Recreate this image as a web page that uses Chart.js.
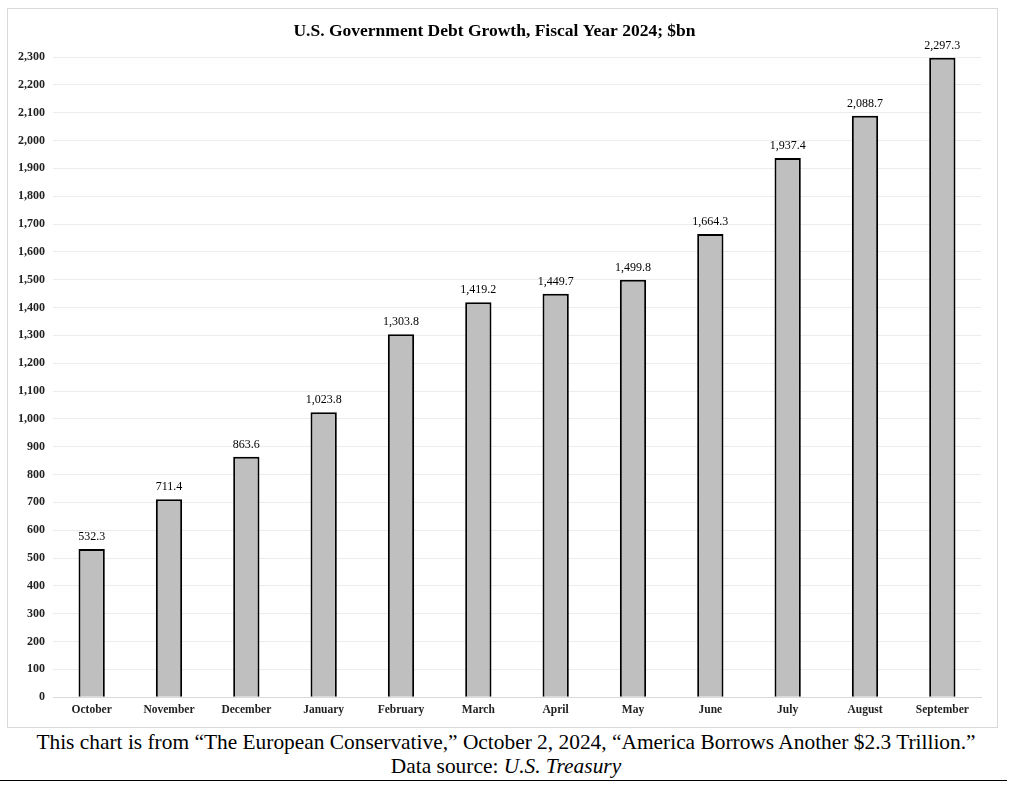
<!DOCTYPE html>
<html>
<head>
<meta charset="utf-8">
<script src="https://cdn.jsdelivr.net/npm/chart.js@4"></script>
<style>
  body { margin: 0; background: #fff; width: 1012px; height: 789px; position: relative; overflow: hidden; }
  #box { position: absolute; left: 7px; top: 8px; width: 989px; height: 718px; border: 1px solid #d9d9d9; }
  .caption { position: absolute; left: 0; width: 1012px; text-align: center; font-family: "Liberation Serif", "Times New Roman", serif; font-size: 21.4px; color: #000; }
  #rule { position: absolute; left: 0; top: 780px; width: 1007px; height: 0; border-top: 1px solid #000; }
</style>
</head>
<body>
<div id="box"><canvas id="chart"></canvas></div>
<div class="caption" style="top:730px">This chart is from “The European Conservative,” October 2, 2024, “America Borrows Another $2.3 Trillion.”</div>
<div class="caption" style="top:754px">Data source: <i>U.S. Treasury</i></div>
<div id="rule"></div>
<script>
// Datos del gráfico
const months = ['October', 'November', 'December', 'January', 'February', 'March',
                'April', 'May', 'June', 'July', 'August', 'September'];
const debtGrowth = [532.3, 711.4, 863.6, 1023.8, 1303.8, 1419.2,
                    1449.7, 1499.8, 1664.3, 1937.4, 2088.7, 2297.3];
const yMin = 0;
const yMax = 2300;
const yStep = 100;

const fmt = v => v.toLocaleString('en-US', { minimumFractionDigits: 1, maximumFractionDigits: 1 });

// Etiquetas encima de cada barra
const barLabels = {
  id: 'barLabels',
  afterDatasetsDraw(chart) {
    const { ctx } = chart;
    const meta = chart.getDatasetMeta(0);
    ctx.save();
    ctx.font = '12px "Liberation Serif", serif';
    ctx.fillStyle = '#000';
    ctx.textAlign = 'center';
    ctx.textBaseline = 'bottom';
    meta.data.forEach((bar, i) => {
      ctx.fillText(fmt(debtGrowth[i]), bar.x, bar.y - 6);
    });
    ctx.restore();
  }
};

new Chart(document.getElementById('chart'), {
  type: 'bar',
  data: {
    labels: months,
    datasets: [{
      data: debtGrowth,
      backgroundColor: '#bfbfbf',
      borderColor: '#000',
      borderWidth: 2,
      borderSkipped: 'bottom',
      categoryPercentage: 1,
      barPercentage: 0.34
    }]
  },
  options: {
    responsive: true,
    maintainAspectRatio: false,
    animation: false,
    layout: { padding: { left: 0, right: 16, bottom: 4 } },
    plugins: {
      legend: { display: false },
      tooltip: { enabled: false },
      title: {
        display: true,
        text: 'U.S. Government Debt Growth, Fiscal Year 2024; $bn',
        color: '#000',
        font: { family: '"Liberation Serif", serif', size: 17.5, weight: 'bold' },
        padding: { top: 12, bottom: 15 }
      }
    },
    scales: {
      y: {
        min: yMin,
        max: yMax,
        ticks: {
          stepSize: yStep,
          color: '#222',
          font: { family: '"Liberation Serif", serif', size: 12, weight: 'bold' },
          padding: 8,
          callback: v => v.toLocaleString('en-US')
        },
        grid: { color: '#ececec', drawTicks: false },
        border: { display: false },
        afterFit: s => { s.width = 45; }
      },
      x: {
        ticks: {
          color: '#222',
          font: { family: '"Liberation Serif", serif', size: 11.5, weight: 'bold' },
          padding: 6
        },
        grid: { display: false, drawTicks: false },
        border: { color: '#d9d9d9' }
      }
    }
  },
  plugins: [barLabels]
});
</script>
</body>
</html>
